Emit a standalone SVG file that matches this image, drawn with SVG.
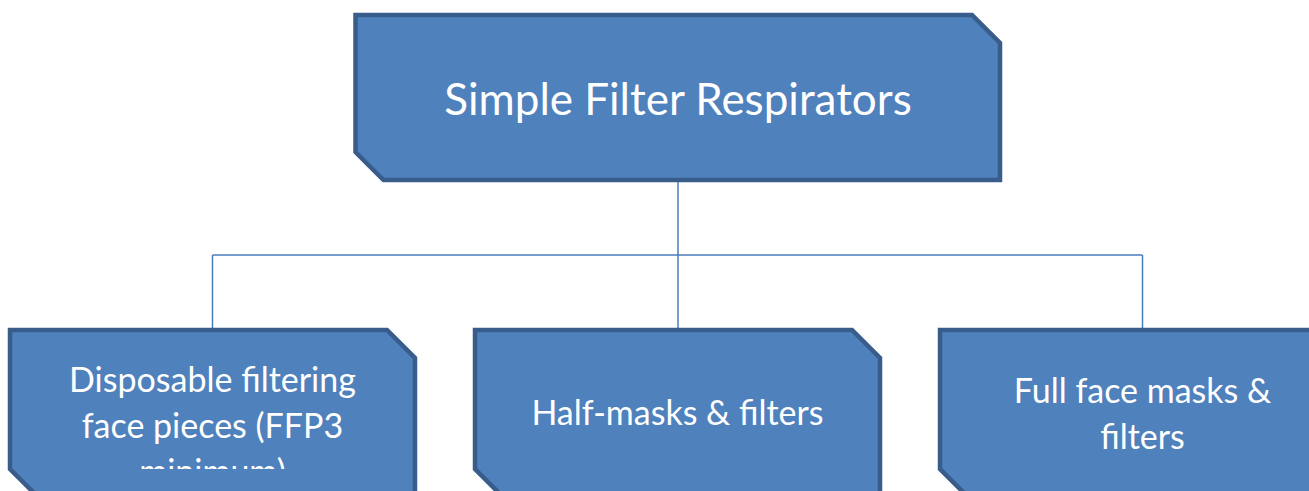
<svg xmlns="http://www.w3.org/2000/svg" width="1309" height="491" viewBox="0 0 1309 491">
<style>
.box{fill:#4F81BD;stroke:#385D8A;stroke-width:4.5;stroke-linejoin:miter}
.conn{fill:none;stroke:#4A7EBB;stroke-width:1.5}
.t{font-family:Lato,"Open Sans",sans-serif;fill:#FFFFFF;text-anchor:middle}
.big{font-size:44px}
.sm{font-size:34px}
</style>
<defs>
<clipPath id="clip1"><rect x="0" y="0" width="1309" height="469"/></clipPath>
</defs>
<rect x="0" y="0" width="1309" height="491" fill="#FFFFFF"/>
<g id="connectors">
<path class="conn" d="M678 182 V255 M212.5 255 H1142.5 M212.5 255 V328 M678 255 V328 M1142.5 255 V328"/>
</g>
<g id="node-top">
<path class="box" d="M355.5 15 H972 L1000 43 V180 H383.5 L355.5 152 Z"/>
<text class="t big" x="678" y="115">Simple Filter Respirators</text>
</g>
<g id="node-disposable">
<path class="box" d="M10 330 H387 L415 358 V497 H38 L10 469 Z"/>
<g clip-path="url(#clip1)">
<text class="t sm" x="212.5" y="392">Disposable filtering</text>
<text class="t sm" x="212.5" y="438">face pieces (FFP3</text>
<text class="t sm" x="212.5" y="484">minimum)</text>
</g>
</g>
<g id="node-half">
<path class="box" d="M475 330 H852 L880 358 V497 H503 L475 469 Z"/>
<text class="t sm" x="677.5" y="425">Half-masks &amp; filters</text>
</g>
<g id="node-full">
<path class="box" d="M940 330 H1317 L1345 358 V497 H968 L940 469 Z"/>
<text class="t sm" x="1142.5" y="403">Full face masks &amp;</text>
<text class="t sm" x="1142.5" y="449">filters</text>
</g>
</svg>
